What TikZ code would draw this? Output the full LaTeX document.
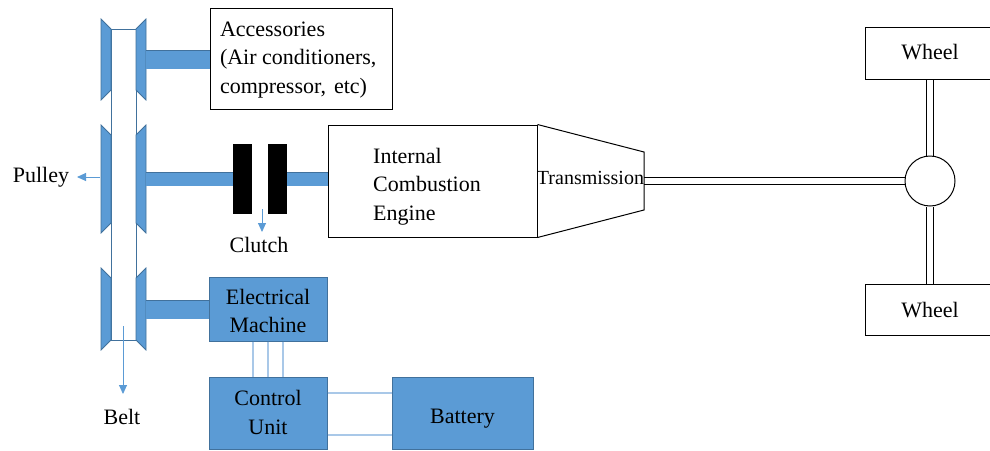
\documentclass[tikz,border=0pt]{standalone}
\usepackage{fontspec}
\setmainfont{Liberation Serif}
\usetikzlibrary{arrows.meta,backgrounds}
\definecolor{mblue}{HTML}{5B9BD5}
\definecolor{mborder}{HTML}{41719C}
\definecolor{mlight}{HTML}{A9C8E8}
\newcommand{\lowered}[3]{\raisebox{#1}[\height][\depth]{\begin{tabular}{@{}#2@{}}#3\end{tabular}}}
\begin{document}
\begin{tikzpicture}[x=1pt,y=-1pt,
  every node/.style={font=\fontsize{22}{28.5}\selectfont, inner sep=0pt},
  wbox/.style={draw=black, line width=1pt, fill=white, rectangle},
  bbox/.style={draw=mborder, line width=1pt, fill=mblue, rectangle},
  flange/.style={draw=mborder, fill=mblue, line width=0.8pt, line join=miter},
  shaft/.style={draw=mborder, double=mblue, double distance=#1, line width=0.6pt},
  plate/.style={fill=black, rectangle, minimum width=19pt, minimum height=70pt},
  wire/.style={draw=mlight, line width=1.2pt},
  callout/.style={draw=mblue, line width=0.9pt, -{Triangle[length=9pt,width=8pt]}},
  rail/.style={draw=black, double=white, double distance=6.5pt, line width=1pt}
]
\useasboundingbox (0,0) rectangle (990,450);

% belt and pulleys
\node[draw=mborder, fill=white, line width=1pt, minimum width=25pt, minimum height=311pt] (belt) at (123.5,184.5) {};
\foreach \t/\b in {19/100,125/233,268/350} {
  \draw[flange] (101,\t) -- (111,\t+10) -- (111,\b-10) -- (101,\b) -- cycle;
  \draw[flange] (146,\t) -- (136,\t+10) -- (136,\b-10) -- (146,\b) -- cycle;
}

% accessories
\node[wbox, minimum width=182pt, minimum height=101pt] (acc) at (301,58.5)
  {\lowered{-0.5pt}{p{162pt}}{Accessories\\(Air conditioners,\\compressor,\hspace{8pt}etc)}};
\coordinate (s1) at (146,59.5);
\draw[shaft=18pt] (s1) -- (s1 -| acc.west);

% clutch and engine
\node[plate] (c1) at (242.5,179) {};
\node[plate] (c2) at (277.5,179) {};
\node[wbox, minimum width=209pt, minimum height=112pt] (ice) at (432.5,181) {};
\node[align=left] (icetxt) at (427,186.5) {Internal\\Combustion\\Engine};
\coordinate (s2) at (146,179);
\draw[shaft=13pt] (s2) -- (c1.west);
\draw[shaft=13pt] (c2.east) -- (c2.east -| ice.west);

% transmission
\coordinate (tne) at (644,152);
\coordinate (tse) at (644,210);
\coordinate (tout) at (644,181);
\draw[line width=1pt, line join=miter] (ice.north east) -- (tne) -- (tse) -- (ice.south east);
\node[font=\fontsize{20}{24}\selectfont] (trans) at (590.5,178) {Transmission};

% differential and wheels
\node[circle, draw, line width=1pt, minimum size=50pt, fill=white] (diff) at (930,181) {};
\node[wbox, minimum width=130pt, minimum height=52pt] (w1) at (930,53) {\lowered{-0.75pt}{c}{Wheel}};
\node[wbox, minimum width=130pt, minimum height=51pt] (w2) at (930,309.5) {\lowered{-2.25pt}{c}{Wheel}};
\begin{scope}[on background layer]
  \draw[rail] (tout) -- (diff.west);
  \draw[rail] (w1.south) -- (diff.north);
  \draw[rail] (diff.south) -- (w2.north);
\end{scope}

% electrical side
\node[bbox, minimum width=118pt, minimum height=64pt] (em) at (268,309) {\lowered{-4pt}{c}{Electrical\\Machine}};
\node[bbox, minimum width=118pt, minimum height=72pt] (cu) at (268,413) {\lowered{-1.5pt}{c}{Control\\Unit}};
\node[bbox, minimum width=141pt, minimum height=72pt] (bat) at (462.5,413) {\lowered{-4.5pt}{c}{Battery}};
\coordinate (s3) at (146,309.5);
\draw[shaft=18pt] (s3) -- (s3 -| em.west);
\foreach \dx in {-15,0,15} {
  \draw[wire] ([xshift=\dx pt]em.south) -- ([xshift=\dx pt]cu.north);
}
\draw[wire] ([yshift=20pt]cu.east) -- ([yshift=20pt]bat.west);
\draw[wire] ([yshift=-22pt]cu.east) -- ([yshift=-22pt]bat.west);

% labels and callouts
\node (pulley) at (41,177) {Pulley};
\node (clutch) at (259,245) {Clutch};
\node (beltlbl) at (122,417) {Belt};
\coordinate (pa) at (100,177);
\coordinate (pb) at (77,177);
\coordinate (ca) at (262,209);
\coordinate (cb) at (262,232);
\coordinate (ba) at (123,326);
\coordinate (bb) at (123,394);
\draw[callout] (pa) -- (pb);
\draw[callout] (ca) -- (cb);
\draw[callout] (ba) -- (bb);
\end{tikzpicture}
\end{document}
